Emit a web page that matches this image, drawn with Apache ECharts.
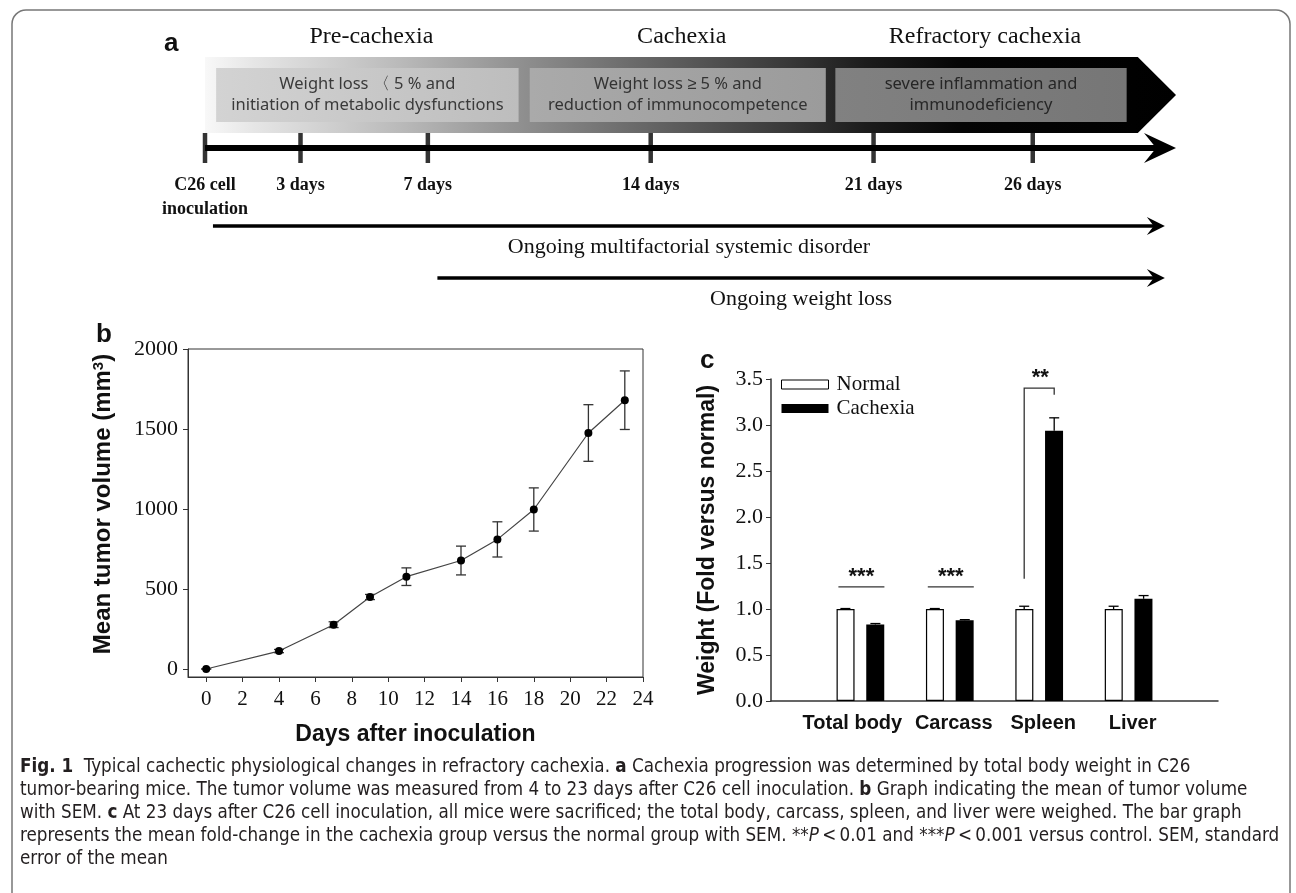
<!DOCTYPE html>
<html><head><meta charset="utf-8">
<script src="https://cdn.jsdelivr.net/npm/echarts@6/dist/echarts.min.js"></script>
<style>html,body{margin:0;padding:0;background:#fff}#c{width:1296px;height:893px}</style>
</head><body><div id="c"></div>
<script>
// ================= DATA =================
// Panel a: schematic timeline (days after C26 inoculation)
const phaseNames = ['Pre-cachexia', 'Cachexia', 'Refractory cachexia'];
const phaseStart = [0.35, 10.2, 19.8];
const phaseEnd = [9.85, 19.5, 28.95];
const phaseNotes = [
  'Weight loss \u3008 5 % and\ninitiation of metabolic dysfunctions',
  'Weight loss \u2265 5 % and\nreduction of immunocompetence',
  'severe inflammation and\nimmunodeficiency'
];
const bandRange = [0, 29.3, 30.5];           // band start, body end, arrow tip
const timelineDays = [0, 3, 7, 14, 21, 26];
const timelineLabels = ['C26 cell\ninoculation', '3 days', '7 days', '14 days', '21 days', '26 days'];
const timelineEnd = 30.5;
const ongoingLabels = ['Ongoing multifactorial systemic disorder', 'Ongoing weight loss'];
const ongoingStart = [0.25, 7.3];
const ongoingEnd = [30.15, 30.15];

// Panel b: tumor volume
const tumorDays = [0, 4, 7, 9, 11, 14, 16, 18, 21, 23];
const tumorVolume = [0, 112, 277, 450, 577, 678, 810, 997, 1475, 1680];
const tumorSem = [0, 10, 18, 16, 55, 90, 110, 135, 177, 183];
const tumorXTicks = [0, 2, 4, 6, 8, 10, 12, 14, 16, 18, 20, 22, 24];
const tumorYTicks = [0, 500, 1000, 1500, 2000];

// Panel c: organ weights (fold versus normal)
const organs = ['Total body', 'Carcass', 'Spleen', 'Liver'];
const normalMean = [1.0, 1.0, 1.0, 1.0];
const normalSem = [0.005, 0.005, 0.03, 0.03];
const cachexiaMean = [0.832, 0.879, 2.938, 1.111];
const cachexiaSem = [0.01, 0.005, 0.14, 0.035];
const sigOrgans = ['Total body', 'Carcass', 'Spleen'];
const sigText = ['***', '***', '**'];
const sigLevel = [1.24, 1.24, 3.40];
const sigBase = [null, null, 1.33];
const sigDrop = [null, null, 3.33];

// Caption
const captionLines = [
  '{b|Fig. 1}  Typical cachectic physiological changes in refractory cachexia. {b|a} Cachexia progression was determined by total body weight in C26',
  'tumor-bearing mice. The tumor volume was measured from 4 to 23 days after C26 cell inoculation. {b|b} Graph indicating the mean of tumor volume',
  'with SEM. {b|c} At 23 days after C26 cell inoculation, all mice were sacrificed; the total body, carcass, spleen, and liver were weighed. The bar graph',
  'represents the mean fold-change in the cachexia group versus the normal group with SEM. **{i|P}\u2009<\u20090.01 and ***{i|P}\u2009<\u20090.001 versus control. SEM, standard',
  'error of the mean'
];

// ================= STYLE =================
const SERIF = '"Liberation Serif","Times New Roman",serif';
const SANS = '"Liberation Sans",Arial,sans-serif';
const BOXF = '"Noto Sans",sans-serif';
const INK = '#111';

function measure(txt, font) {
  const c = document.createElement('canvas').getContext('2d');
  c.font = font; return c.measureText(txt).width;
}
// choose a condensed humanist font for the caption if one is installed
const probe = 'The quick brown fox jumps 0123456789';
const capCandidates = ['Liberation Sans Narrow', 'DejaVu Sans Condensed', 'Noto Sans'];
let CAPF = '"Noto Sans",sans-serif';
for (const f of capCandidates) {
  if (Math.abs(measure(probe, '20px "' + f + '",monospace') - measure(probe, '20px monospace')) > 1) { CAPF = '"' + f + '",sans-serif'; break; }
}
const capTargets = [1177, 1239, 1210, 1244];
let capMeasured = 0;
captionLines.slice(0, 4).forEach(l => { capMeasured += measure(l.replace(/\{[a-z]\|([^}]*)\}/g, '$1'), '20px ' + CAPF); });
const capSize = Math.max(14, Math.min(24, 20 * capTargets.reduce((a, b) => a + b, 0) / capMeasured));

const bandStops = [
  {offset: 0, color: '#f8f8f8'}, {offset: 0.05, color: '#e6e6e6'},
  {offset: 0.2, color: '#bababa'}, {offset: 0.33, color: '#8e8e8e'},
  {offset: 0.47, color: '#616161'}, {offset: 0.6, color: '#383838'},
  {offset: 0.68, color: '#1c1c1c'}, {offset: 0.78, color: '#050505'},
  {offset: 1, color: '#000'}
];
const boxFill = [['#d3d3d3', '#bdbdbd'], ['#aaaaaa', '#9b9b9b'], ['#818181', '#767676']];
const boxInk = ['#3a3a3a', '#333', '#262626'];
const BAR_W = 18, BAR_OFF = 15;

function arrowGroup(a, b, lw, L, H) {
  return {type: 'group', children: [
    {type: 'line', shape: {x1: a[0], y1: a[1], x2: b[0] - L * 0.6, y2: b[1]}, style: {stroke: '#000', lineWidth: lw}},
    {type: 'polygon', shape: {points: [[b[0], b[1]], [b[0] - L, b[1] - H], [b[0] - L * 0.62, b[1]], [b[0] - L, b[1] + H]]}, style: {fill: '#000'}}
  ]};
}

const chart = echarts.init(document.getElementById('c'), null, {renderer: 'canvas'});

const option = {
  animation: false,
  backgroundColor: '#fff',
  grid: [
    {left: 205, width: 971, top: 57, height: 76},      // a: band
    {left: 205, width: 971, top: 133, height: 30},     // a: timeline
    {left: 205, width: 971, top: 200, height: 104},    // a: ongoing arrows
    {left: 188, width: 455, top: 349, height: 328, show: true, borderColor: '#333', borderWidth: 1}, // b
    {left: 771, width: 447, top: 379, height: 322}     // c
  ],
  xAxis: [
    {gridIndex: 0, type: 'value', min: 0, max: timelineEnd, show: false},
    {gridIndex: 1, type: 'value', min: 0, max: timelineEnd, axisLine: {show: false}, axisTick: {show: false}, splitLine: {show: false},
      axisLabel: {customValues: timelineDays, formatter: v => timelineLabels[timelineDays.indexOf(v)], fontFamily: SERIF, fontWeight: 'bold', fontSize: 18, lineHeight: 24, color: INK, margin: 10, verticalAlign: 'top'}},
    {gridIndex: 2, type: 'value', min: 0, max: timelineEnd, show: false},
    {gridIndex: 3, type: 'value', min: -1, max: 24, splitLine: {show: false},
      axisLine: {show: true, onZero: false, lineStyle: {color: '#333', width: 1}},
      axisTick: {show: true, customValues: tumorXTicks, length: 5, lineStyle: {color: '#333'}},
      axisLabel: {customValues: tumorXTicks, fontFamily: SERIF, fontSize: 21, color: INK, margin: 12},
      name: 'Days after inoculation', nameLocation: 'middle', nameGap: 46,
      nameTextStyle: {fontFamily: SANS, fontWeight: 'bold', fontSize: 23, color: INK}},
    {gridIndex: 4, type: 'category', data: ['', ...organs, ''], boundaryGap: false,
      axisLine: {show: true, lineStyle: {color: '#333', width: 1.5}}, axisTick: {show: false},
      axisLabel: {interval: 0, fontFamily: SANS, fontWeight: 'bold', fontSize: 20, color: INK, margin: 12,
        formatter: (v, i) => v === '' ? '' : (i === 1 ? '{first|' + v + '}' : '{rest|' + v + '}'),
        rich: {first: {fontFamily: SANS, fontWeight: 'bold', fontSize: 20, color: INK, padding: [0, 16, 0, 0]},
               rest: {fontFamily: SANS, fontWeight: 'bold', fontSize: 20, color: INK, padding: [0, 0, 0, 8]}}}}
  ],
  yAxis: [
    {gridIndex: 0, type: 'value', min: 0, max: 1, show: false},
    {gridIndex: 1, type: 'value', min: -1, max: 1, show: false},
    {gridIndex: 2, type: 'category', data: ongoingLabels, inverse: true, show: false},
    {gridIndex: 3, type: 'value', min: -50, max: 2000, splitLine: {show: false},
      axisLine: {show: true, onZero: false, lineStyle: {color: '#333', width: 1}},
      axisTick: {show: true, customValues: tumorYTicks, length: 5, lineStyle: {color: '#333'}},
      axisLabel: {customValues: tumorYTicks, formatter: v => String(v), fontFamily: SERIF, fontSize: 22, color: INK, margin: 10},
      name: 'Mean tumor volume (mm{sup|3})', nameLocation: 'middle', nameRotate: 90, nameGap: 72,
      nameTextStyle: {fontFamily: SANS, fontWeight: 'bold', fontSize: 24, color: INK, padding: [0, 0, 0, 18],
        rich: {sup: {fontFamily: SANS, fontWeight: 'bold', fontSize: 15, verticalAlign: 'top', padding: [0, 0, 10, 0], color: INK}}}},
    {gridIndex: 4, type: 'value', min: 0, max: 3.5, interval: 0.5, splitLine: {show: false},
      axisLine: {show: true, lineStyle: {color: '#333', width: 1.5}},
      axisTick: {show: true, length: 5, lineStyle: {color: '#333'}},
      axisLabel: {formatter: v => v.toFixed(1), fontFamily: SERIF, fontSize: 22, color: INK, margin: 8},
      name: 'Weight (Fold versus normal)', nameLocation: 'middle', nameRotate: 90, nameGap: 52,
      nameTextStyle: {fontFamily: SANS, fontWeight: 'bold', fontSize: 23, color: INK}}
  ],
  legend: {
    data: [
      {name: 'Normal', itemStyle: {color: '#fff', borderColor: '#000', borderWidth: 1}},
      {name: 'Cachexia', itemStyle: {color: '#000'}}
    ],
    orient: 'vertical', left: 776, top: 369, icon: 'rect', itemWidth: 47, itemHeight: 9, itemGap: 3,
    textStyle: {fontFamily: SERIF, fontSize: 21, color: INK, lineHeight: 21, padding: [0, 0, 0, 3]}
  },
  series: [
    // ----- panel a -----
    {type: 'custom', name: 'band', xAxisIndex: 0, yAxisIndex: 0, silent: true, data: [bandRange],
      renderItem: (p, api) => {
        const t0 = api.coord([bandRange[0], 1]), t1 = api.coord([bandRange[1], 1]);
        const tip = api.coord([bandRange[2], 0.5]);
        const b1 = api.coord([bandRange[1], 0]), b0 = api.coord([bandRange[0], 0]);
        return {type: 'polygon', shape: {points: [t0, t1, tip, b1, b0]},
          style: {fill: new echarts.graphic.LinearGradient(0, 0, 1, 0, bandStops)}};
      }},
    {type: 'custom', name: 'phases', xAxisIndex: 0, yAxisIndex: 0, silent: true,
      data: phaseStart.map((s, i) => [s, phaseEnd[i], i]),
      renderItem: (p, api) => {
        const i = p.dataIndex;
        const a = api.coord([api.value(0), 1]), b = api.coord([api.value(1), 0]);
        const top = a[1] + 11, bot = b[1] - 11, cx = (a[0] + b[0]) / 2;
        return {type: 'group', children: [
          {type: 'rect', shape: {x: a[0], y: top, width: b[0] - a[0], height: bot - top},
            style: {fill: new echarts.graphic.LinearGradient(0, 0, 1, 0, [{offset: 0, color: boxFill[i][0]}, {offset: 1, color: boxFill[i][1]}])}},
          {type: 'text', style: {text: phaseNotes[i], x: cx, y: (top + bot) / 2, align: 'center', verticalAlign: 'middle',
            fontFamily: BOXF, fontSize: 16.5, lineHeight: 21, fill: boxInk[i]}},
          {type: 'text', style: {text: phaseNames[i], x: cx + 4, y: a[1] - 20, align: 'center', verticalAlign: 'middle',
            fontFamily: SERIF, fontSize: 24, fill: INK}}
        ]};
      }},
    {type: 'custom', name: 'timeline', xAxisIndex: 1, yAxisIndex: 1, silent: true, data: [[0, timelineEnd]],
      renderItem: (p, api) => arrowGroup(api.coord([api.value(0), 0]), api.coord([api.value(1), 0]), 6, 32, 15)},
    {type: 'scatter', name: 'ticks', xAxisIndex: 1, yAxisIndex: 1, silent: true, symbol: 'rect', symbolSize: [4.5, 30],
      itemStyle: {color: '#000'}, data: timelineDays.map(d => [d, 0])},
    {type: 'custom', name: 'ongoing', xAxisIndex: 2, yAxisIndex: 2, silent: true,
      data: ongoingStart.map((s, i) => [s, ongoingEnd[i], i]),
      renderItem: (p, api) => {
        const a = api.coord([api.value(0), api.value(2)]), b = api.coord([api.value(1), api.value(2)]);
        const g = arrowGroup(a, b, 3.5, 18, 9);
        g.children.push({type: 'text', style: {text: ongoingLabels[p.dataIndex], x: (a[0] + b[0]) / 2, y: a[1] + 21,
          align: 'center', verticalAlign: 'middle', fontFamily: SERIF, fontSize: 22, fill: INK}});
        return g;
      }},
    // ----- panel b -----
    {type: 'custom', name: 'tumorErr', xAxisIndex: 3, yAxisIndex: 3, silent: true, z: 2,
      data: tumorDays.map((d, i) => [d, tumorVolume[i] - tumorSem[i], tumorVolume[i] + tumorSem[i]]),
      renderItem: (p, api) => {
        const lo = api.coord([api.value(0), api.value(1)]), hi = api.coord([api.value(0), api.value(2)]);
        const st = {stroke: '#333', lineWidth: 1.3}, w = 5;
        return {type: 'group', children: [
          {type: 'line', shape: {x1: lo[0], y1: lo[1], x2: hi[0], y2: hi[1]}, style: st},
          {type: 'line', shape: {x1: hi[0] - w, y1: hi[1], x2: hi[0] + w, y2: hi[1]}, style: st},
          {type: 'line', shape: {x1: lo[0] - w, y1: lo[1], x2: lo[0] + w, y2: lo[1]}, style: st}
        ]};
      }},
    {type: 'line', name: 'Tumor volume', xAxisIndex: 3, yAxisIndex: 3, z: 3,
      data: tumorDays.map((d, i) => [d, tumorVolume[i]]),
      symbol: 'circle', symbolSize: 8, itemStyle: {color: '#000'}, lineStyle: {color: '#444', width: 1.2}},
    // ----- panel c -----
    {type: 'bar', name: 'Normal', xAxisIndex: 4, yAxisIndex: 4, barWidth: BAR_W, barGap: '65%',
      data: ['-', ...normalMean, '-'], itemStyle: {color: '#fff', borderColor: '#000', borderWidth: 1.2}},
    {type: 'bar', name: 'Cachexia', xAxisIndex: 4, yAxisIndex: 4, barWidth: BAR_W, barGap: '65%',
      data: ['-', ...cachexiaMean, '-'], itemStyle: {color: '#000'}},
    {type: 'custom', name: 'barErr', xAxisIndex: 4, yAxisIndex: 4, silent: true, z: 3,
      data: [
        ...organs.map((o, i) => [i + 1, normalMean[i], normalMean[i] + normalSem[i], -1]),
        ...organs.map((o, i) => [i + 1, cachexiaMean[i], cachexiaMean[i] + cachexiaSem[i], 1])
      ],
      renderItem: (p, api) => {
        const off = api.value(3) * BAR_OFF;
        const m = api.coord([api.value(0), api.value(1)]), h = api.coord([api.value(0), api.value(2)]);
        const x = m[0] + off, st = {stroke: '#000', lineWidth: 1.3}, w = 5;
        return {type: 'group', children: [
          {type: 'line', shape: {x1: x, y1: m[1], x2: x, y2: h[1]}, style: st},
          {type: 'line', shape: {x1: x - w, y1: h[1], x2: x + w, y2: h[1]}, style: st}
        ]};
      }},
    {type: 'custom', name: 'significance', xAxisIndex: 4, yAxisIndex: 4, silent: true, z: 3,
      data: sigOrgans.map((o, i) => [organs.indexOf(o) + 1, sigLevel[i], sigBase[i] == null ? '-' : sigBase[i], sigDrop[i] == null ? '-' : sigDrop[i]]),
      renderItem: (p, api) => {
        const i = p.dataIndex, cat = api.value(0);
        const c = api.coord([cat, sigLevel[i]]);
        const st = {stroke: '#333', lineWidth: 1.3};
        const kids = [];
        if (sigBase[i] == null) {
          kids.push({type: 'line', shape: {x1: c[0] - 22, y1: c[1], x2: c[0] + 24, y2: c[1]}, style: st});
        } else {
          const b = api.coord([cat, sigBase[i]]), d = api.coord([cat, sigDrop[i]]);
          const xl = c[0] - BAR_OFF, xr = c[0] + BAR_OFF;
          kids.push({type: 'polyline', shape: {points: [[xl, b[1]], [xl, c[1]], [xr, c[1]], [xr, d[1]]]}, style: Object.assign({fill: null}, st)});
        }
        kids.push({type: 'text', style: {text: sigText[i], x: c[0] + 1, y: c[1] - 10, align: 'center', verticalAlign: 'middle',
          fontFamily: SANS, fontWeight: 'bold', fontSize: 22, fill: INK}});
        return {type: 'group', children: kids};
      }}
  ],
  graphic: [
    {type: 'rect', silent: true, z: -10, shape: {x: 12, y: 10, width: 1278, height: 910, r: 14},
      style: {fill: 'none', stroke: '#777', lineWidth: 1.5}},
    {type: 'text', left: 164, top: 31, style: {text: 'a', fontFamily: SANS, fontWeight: 'bold', fontSize: 26, fill: INK}},
    {type: 'text', left: 96, top: 322, style: {text: 'b', fontFamily: SANS, fontWeight: 'bold', fontSize: 26, fill: INK}},
    {type: 'text', left: 700, top: 348, style: {text: 'c', fontFamily: SANS, fontWeight: 'bold', fontSize: 26, fill: INK}},
    ...captionLines.map((t, i) => ({
      type: 'text', left: 20, top: 758 + i * 23,
      style: {text: t, fontFamily: CAPF, fontSize: capSize, fill: '#231f20',
        rich: {b: {fontFamily: CAPF, fontWeight: 'bold', fontSize: capSize, fill: '#231f20'},
               i: {fontFamily: CAPF, fontStyle: 'italic', fontSize: capSize, fill: '#231f20'}}}
    }))
  ]
};
chart.setOption(option);
</script></body></html>
